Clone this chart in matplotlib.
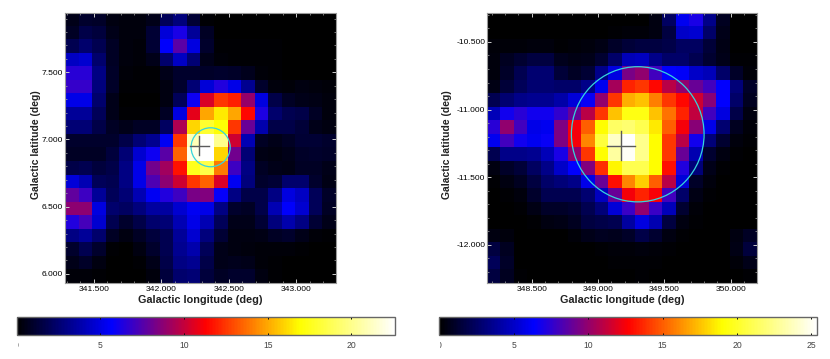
import matplotlib
matplotlib.use('Agg')
import matplotlib.pyplot as plt
from matplotlib.colors import LinearSegmentedColormap, Normalize
from matplotlib.cm import ScalarMappable
from matplotlib.patches import Ellipse
from matplotlib.ticker import FormatStrFormatter, MultipleLocator
from matplotlib.transforms import Bbox
import numpy as np

plt.rcParams['font.family'] = ['Liberation Sans', 'DejaVu Sans']

W, H = 830, 359

# counts map, left source (top row first)
left_map = [
    [.6, 1, .9, .4, .3, .3, .6, 2, 2.8, 1.2, .1, 0, 0, 0, 0, 0, 0, 0, 0, 0],
    [.8, 1.6, 1.4, .6, .3, .3, 1.2, 4.8, 6.2, 3.4, .8, 0, 0, 0, 0, 0, 0, 0, 0, 0],
    [1.8, 2.4, 1.8, .8, .3, .2, 1.2, 5.6, 7.6, 5, 1, .1, .1, .1, .1, .1, 0, 0, 0, 0],
    [4.4, 4.6, 2.4, .8, .3, .2, .6, 2.4, 4.4, 2.6, .6, .2, .1, .1, .1, .1, 0, 0, 0, 0],
    [6.6, 6.6, 3, .9, .2, .1, .1, .6, 1, 1, .9, 1, .9, .7, .2, .1, 0, 0, 0, 0],
    [6.8, 6.8, 2.8, .9, .1, .1, .1, .4, 1, 2.6, 4.8, 6.4, 5.2, 3.2, 1, .3, .2, .4, .3, .2],
    [5.2, 5.2, 2.4, .6, 0, 0, 0, .4, 2, 6, 10.5, 12.5, 12, 9, 5, 1.6, .8, .6, .5, .3],
    [3.4, 3.4, 2, .6, .1, .1, .1, .8, 5, 10.7, 15, 16.5, 15, 11.4, 6.3, 2.4, 1.8, 1.6, .8, .3],
    [2.6, 2.6, 1.6, .8, .6, .8, .8, 2.2, 9.5, 16, 18, 17, 12.5, 8, 3.8, 1.6, 1.6, 1.3, .6, .4],
    [1, 1, 1, 1, 1.6, 2.6, 3.2, 5.4, 12.5, 21, 22.5, 20, 10.2, 4, .8, .6, .8, 1.2, 1.2, 1],
    [.8, .8, .8, 1.4, 2.6, 4.6, 6, 7.6, 13.5, 22, 22.6, 16, 8.2, 2.6, .5, .4, .6, .9, 1, .9],
    [1.6, 1.8, 1.4, 1.6, 3, 5.2, 8.2, 9.2, 11.7, 17.5, 18.5, 14, 7, 3, .8, .6, .5, .8, .8, .6],
    [4.8, 4, 2, 1.8, 3, 5.2, 7.4, 8.8, 10.2, 12.5, 13.5, 10.5, 5.4, 2.8, 1, 1.2, 2.4, 2.4, 1, .5],
    [7.8, 7, 3.4, 2, 2.6, 4, 5.4, 6.4, 7, 8.3, 8.5, 5.8, 3, 1.6, 1.6, 3, 5, 4.4, 2, .9],
    [8.8, 8.8, 5, 2.4, 2.2, 2.8, 3.6, 3.6, 4.6, 5.4, 5.2, 3, 1, .8, 1.6, 4, 5.6, 4.6, 2, .8],
    [6.4, 7.2, 4.6, 1.8, 1, 1.6, 2.4, 2.6, 4, 5.2, 4, 2, .6, .6, 1.2, 2.8, 3.8, 3, 1.2, .6],
    [3, 3.4, 2.4, .8, .4, .8, 1.4, 1.8, 3.4, 4.6, 2.8, 1.2, .4, .4, .5, .8, 1, .6, .2, .1],
    [1, 1.8, 1, .1, 0, .4, 1, 1.8, 3.2, 3.8, 2, .6, .4, .3, .2, .2, .2, .1, 0, 0],
    [.6, .9, .4, 0, 0, .1, .6, 1.6, 3, 3.2, 1.6, .6, .7, .6, .2, .1, 0, 0, 0, 0],
    [.2, .2, .1, 0, 0, 0, .3, 1.4, 2.4, 2.6, 1.4, .8, 1, 1, .4, .1, 0, 0, 0, 0],
]

# counts map, right source (top row first)
right_map = [
    [0, 0, 0, 0, 0, 0, 0, 0, 0, 0, 0, 0, .4, 2.4, 6, 7, 3.4, .8, 0, 0],
    [0, 0, 0, 0, 0, 0, 0, 0, 0, .1, .2, .2, .4, 1.6, 5, 5.2, 2.6, .6, 0, 0],
    [.2, .2, .2, .3, .3, .1, .2, .3, .5, 1, 1.4, 1.6, 1.6, 1.8, 2.4, 2.4, 1.4, .5, 0, 0],
    [.3, .8, 1.2, 1.6, 1.6, .7, .5, .6, 1.2, 2.6, 4.6, 4.8, 3.4, 2.6, 2.6, 2, 1.2, .6, .1, .1],
    [.3, 1, 2, 2.8, 2.8, 1.4, .9, 1.3, 3.4, 5.6, 9.4, 10, 8, 6.4, 6.2, 5, 4.6, 2.6, 1, .2],
    [.5, 1.4, 2.2, 2.8, 2.8, 2.6, 2.6, 3.4, 6, 10.5, 13.5, 14, 12.8, 11, 10, 9, 8, 6.4, 3, 1],
    [2, 2.8, 3.4, 3.6, 3.6, 4.2, 5.4, 6.6, 10, 14, 17, 17.5, 15.8, 14, 12.8, 11.5, 9.8, 6.4, 2.6, .8],
    [4.6, 6.8, 7.4, 6.8, 6.8, 7.6, 9, 11, 14, 17.5, 19.5, 19.5, 17.5, 15.5, 13.5, 11.2, 8, 5.6, 1.8, .4],
    [7.4, 10, 8, 5.8, 6, 9.5, 12.5, 15, 19, 21.5, 21.8, 21, 18.5, 15, 12.5, 9.8, 5.8, 2.8, .8, .2],
    [6, 8, 6.8, 6, 6.6, 9.5, 12.5, 16, 20.5, 24, 25.4, 22.5, 19, 14, 11, 6.8, 3, 1.2, .3, .1],
    [2, 3.4, 3.4, 3.6, 4.6, 7, 10, 14, 19, 23, 25.2, 22.5, 19, 14, 9, 4.4, 1.2, .4, .1, 0],
    [.4, 1, 1.4, 2.4, 3.4, 5, 6.4, 9.6, 13.8, 18.8, 21, 21, 19, 13, 7.2, 3, .6, .1, 0, 0],
    [.1, .4, .8, 1.6, 2.6, 3, 3.4, 5.8, 9, 13, 16, 17.8, 15, 11, 5.4, 1, .3, 0, 0, 0],
    [0, .1, .3, 1.1, 2, 2, 2, 2.8, 4.8, 9, 12.5, 13.5, 12.6, 8, 2.6, .5, .1, 0, 0, 0],
    [0, 0, .1, .5, 1, 1, 1.2, 2, 3, 5.4, 7.8, 10, 7.8, 4.6, 1.2, .2, 0, 0, 0, 0],
    [0, 0, 0, .1, .4, .5, .8, 1.6, 1.8, 2, 4, 5.6, 4.4, 1.6, .4, .1, 0, 0, 0, 0],
    [.4, .3, 0, 0, 0, 0, .2, .6, .8, .7, 1, 1.8, 1.2, .4, .1, 0, 0, 0, .4, .9],
    [1.6, .8, 0, 0, 0, 0, 0, 0, .1, .2, .2, .3, .2, .1, 0, 0, 0, 0, .5, 1.5],
    [2.2, 1, 0, 0, 0, 0, 0, 0, 0, .1, .1, .1, .1, 0, 0, 0, 0, 0, .2, .6],
    [1.6, .8, .1, 0, 0, 0, 0, 0, 0, 0, 0, .1, 0, 0, 0, 0, 0, 0, 0, .1],
]

left_lon = [341.285, 343.293]
left_lat = [5.934, 7.945]
right_lon = [348.165, 350.198]
right_lat = [-12.281, -10.282]

left_circle = [342.366, 6.942, 0.145]
right_circle = [349.299, -11.183, 0.5]
left_cross = [342.281, 6.954, 0.07]
right_cross = [349.175, -11.268, 0.107]

left_vmax = 22.6
right_vmax = 25.4
left_cticks = [0, 5, 10, 15, 20]
right_cticks = [0, 5, 10, 15, 20, 25]

cmap = LinearSegmentedColormap.from_list(
    'bb', [(0, 'black'), (.25, 'blue'), (.5, 'red'), (.75, 'yellow'), (1, 'white')], N=256)


def px_axes(x0, y0, x1, y1):
    # pixel box measured from the top left
    return fig.add_axes([x0 / W, 1 - y1 / H, (x1 - x0) / W, (y1 - y0) / H])


def draw_map(box, cbox, data, lon, lat, vmax, circle, cross, cticks, ylabel_x):
    ax = px_axes(*box)
    ax.imshow(np.array(data), cmap=cmap, vmin=0, vmax=vmax, aspect='auto',
              interpolation='nearest', extent=[lon[0], lon[1], lat[0], lat[1]])
    ax.add_patch(Ellipse(circle[:2], 2 * circle[2], 2 * circle[2], fill=False,
                         edgecolor='#35d5dc', lw=.9))
    ax.plot([cross[0] - cross[2], cross[0] + cross[2]], [cross[1], cross[1]], color='#5a5a5a', lw=1)
    ax.plot([cross[0], cross[0]], [cross[1] - cross[2], cross[1] + cross[2]], color='#5a5a5a', lw=1)
    ax.set_xlim(lon)
    ax.set_ylim(lat)

    ax.xaxis.set_major_locator(MultipleLocator(0.5))
    ax.xaxis.set_minor_locator(MultipleLocator(0.1))
    ax.yaxis.set_major_locator(MultipleLocator(0.5))
    ax.yaxis.set_minor_locator(MultipleLocator(0.1))
    ax.xaxis.set_major_formatter(FormatStrFormatter('%.3f'))
    ax.yaxis.set_major_formatter(FormatStrFormatter('%.3f'))
    ax.tick_params(which='major', direction='in', top=True, right=True, length=3, width=.7,
                   color='#cccccc', labelsize=6.1, pad=1.5, labelcolor='black')
    ax.tick_params(which='minor', direction='in', top=True, right=True, length=1.5, width=.5,
                   color='#aaaaaa')
    ax.tick_params(axis='x', which='major', pad=2.5)
    for s in ax.spines.values():
        s.set_color('#9a9a9a')
        s.set_linewidth(.8)
    ax.set_xlabel('Galactic longitude (deg)', fontsize=7.8, fontweight='bold', color='#222222', labelpad=1.5)
    ax.set_ylabel('Galactic latitude (deg)', fontsize=7.5, fontweight='bold', color='#222222')
    ax.yaxis.set_label_coords((ylabel_x - box[0]) / (box[2] - box[0]), .51)

    cax = px_axes(*cbox)
    cb = fig.colorbar(ScalarMappable(Normalize(0, vmax), cmap), cax=cax, orientation='horizontal')
    cb.set_ticks(cticks)
    cb.minorticks_off()
    cax.tick_params(direction='in', top=True, bottom=True, length=1.5, width=.7, color='black',
                    labelsize=6.2, pad=4.5, labelcolor='#444444')
    cb.outline.set_edgecolor('#666666')
    cb.outline.set_linewidth(1)

    # the 0 label is cut at the bar's left edge
    zero = cax.get_xticklabels()[0]
    zero.set_clip_box(Bbox([[cbox[0] + 1, 0], [cbox[0] + 30, H]]))
    zero.set_clip_on(True)


fig = plt.figure(figsize=(W / 100, H / 100), dpi=100)

draw_map((65, 12.5, 335.5, 282.7), (16.5, 317, 395, 335), left_map, left_lon, left_lat, left_vmax,
         left_circle, left_cross, left_cticks, 40.5)
draw_map((487.3, 12.5, 757, 282.7), (439.3, 317, 817.3, 335), right_map, right_lon, right_lat, right_vmax,
         right_circle, right_cross, right_cticks, 452)

fig.savefig('out.png', dpi=100)
